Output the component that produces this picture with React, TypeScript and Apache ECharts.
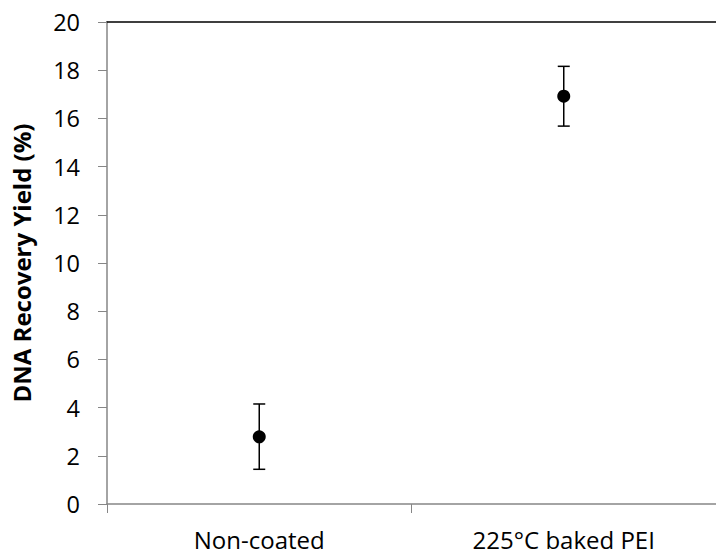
import React, { useEffect, useRef } from "react";
import * as echarts from "echarts";

const categories = ["Non-coated", "225°C baked PEI"];
const yieldMeans = [2.79, 16.92];
const yieldLow = [1.44, 15.68];
const yieldHigh = [4.15, 18.16];
const yTicks = [0, 20, 2];

export default function App() {
  const ref = useRef<HTMLDivElement>(null);
  useEffect(() => {
    const chart = echarts.init(ref.current!, undefined, { renderer: "svg" });
    const font = "'Open Sans', Lato, sans-serif";
    chart.setOption({
      animation: false,
      grid: { left: 107, right: -7, top: 22, bottom: 50, containLabel: false },
      xAxis: [
        {
          type: "category",
          data: categories,
          boundaryGap: true,
          axisLine: { lineStyle: { color: "#868686", width: 1.5 } },
          axisTick: { show: true, length: 9, lineStyle: { color: "#868686" } },
          axisLabel: { color: "#000", fontSize: 24, fontFamily: font, margin: 23 },
          splitLine: { show: false },
        },
        {
          type: "category",
          data: categories,
          position: "top",
          axisLine: { lineStyle: { color: "#000", width: 1.5 } },
          axisTick: { show: false },
          axisLabel: { show: false },
        },
      ],
      yAxis: {
        type: "value",
        min: yTicks[0],
        max: yTicks[1],
        interval: yTicks[2],
        name: "DNA Recovery Yield (%)",
        nameLocation: "middle",
        nameGap: 74,
        nameRotate: 90,
        nameTextStyle: { color: "#000", fontSize: 24, fontWeight: "bold", fontFamily: font },
        axisLine: { show: true, lineStyle: { color: "#868686", width: 1.5 } },
        axisTick: { show: true, length: 9, lineStyle: { color: "#868686" } },
        axisLabel: { color: "#000", fontSize: 23.5, fontFamily: font, margin: 27 },
        splitLine: { show: false },
      },
      series: [
        {
          type: "custom",
          renderItem: (params: any, api: any) => {
            const x = api.value(0);
            const lo = api.coord([x, api.value(1)]);
            const hi = api.coord([x, api.value(2)]);
            const cap = 6;
            const style = { stroke: "#000", lineWidth: 1.5 };
            return {
              type: "group",
              children: [
                { type: "line", shape: { x1: lo[0], y1: lo[1], x2: hi[0], y2: hi[1] }, style },
                { type: "line", shape: { x1: lo[0] - cap, y1: lo[1], x2: lo[0] + cap, y2: lo[1] }, style },
                { type: "line", shape: { x1: hi[0] - cap, y1: hi[1], x2: hi[0] + cap, y2: hi[1] }, style },
              ],
            };
          },
          encode: { x: 0, y: [1, 2] },
          data: categories.map((_, i) => [i, yieldLow[i], yieldHigh[i]]),
          z: 2,
        },
        {
          type: "scatter",
          data: categories.map((_, i) => [i, yieldMeans[i]]),
          symbol: "circle",
          symbolSize: 13,
          itemStyle: { color: "#000", opacity: 1 },
          emphasis: { disabled: true },
          z: 3,
        },
      ],
    });
    return () => chart.dispose();
  }, []);
  return (
    <div
      ref={ref}
      style={{ position: "absolute", left: 0, top: 0, width: 716, height: 554 }}
    />
  );
}
